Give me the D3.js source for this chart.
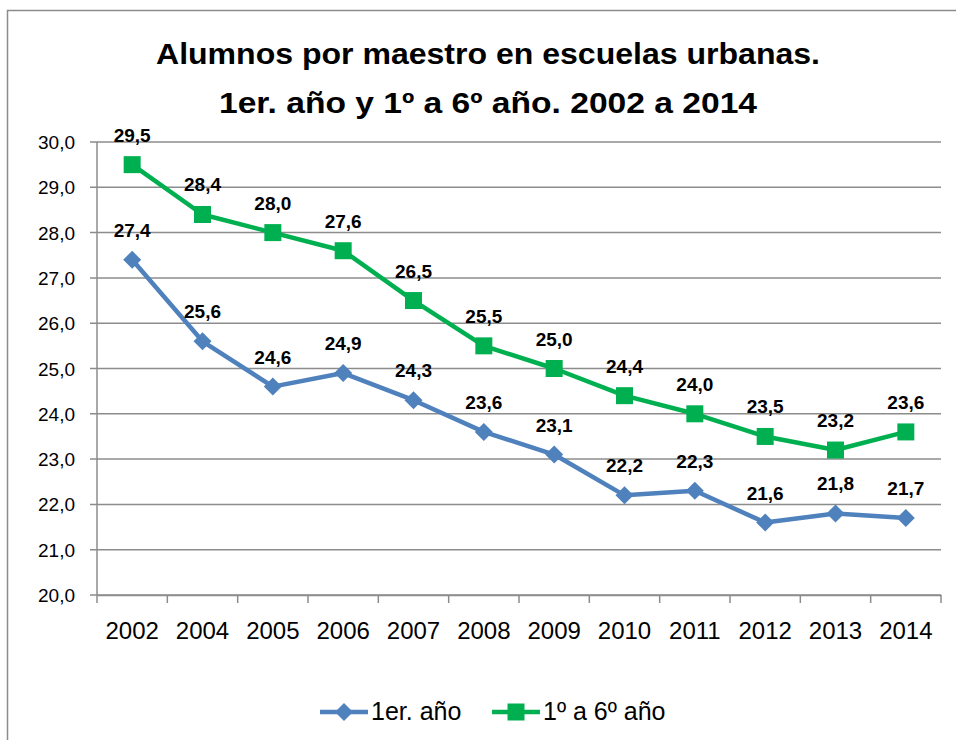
<!DOCTYPE html>
<html>
<head>
<meta charset="utf-8">
<script src="https://cdn.jsdelivr.net/npm/d3@7"></script>
<style>
	body { margin: 0; background: #fff; }
	svg { display: block; font-family: 'Liberation Sans', Arial, sans-serif; }
</style>
</head>
<body>
<svg id="chart" width="956" height="740"></svg>
<script>
const years = ['2002', '2004', '2005', '2006', '2007', '2008', '2009', '2010', '2011', '2012', '2013', '2014']
const primerAnio = [27.4, 25.6, 24.6, 24.9, 24.3, 23.6, 23.1, 22.2, 22.3, 21.6, 21.8, 21.7]
const primeroASexto = [29.5, 28.4, 28.0, 27.6, 26.5, 25.5, 25.0, 24.4, 24.0, 23.5, 23.2, 23.6]
const yTicks = [20, 21, 22, 23, 24, 25, 26, 27, 28, 29, 30]
const titleLines = ['Alumnos por maestro en escuelas urbanas.', '1er. año y 1º a 6º año. 2002 a 2014']

// diamond = square turned by 45 degrees
const diamond = {
	draw(context, size) {
		const r = Math.sqrt(size / 2)
		context.moveTo(0, -r)
		context.lineTo(r, 0)
		context.lineTo(0, r)
		context.lineTo(-r, 0)
		context.closePath()
	}
}

const series = [
	{ name: '1er. año', values: primerAnio, color: '#4F81BD', marker: diamond, size: 162 },
	{ name: '1º a 6º año', values: primeroASexto, color: '#00B050', marker: d3.symbolSquare, size: 289 }
]

const svg = d3.select('#chart')
const fmt = v => d3.format('.1f')(v).replace('.', ',')
const gridColor = '#8c8c8c'

// outer frame of the chart
svg.append('rect')
	.attr('x', 7.5).attr('y', 10.5)
	.attr('width', 1000).attr('height', 1000)
	.attr('fill', 'none').attr('stroke', gridColor).attr('stroke-width', 1.5)

const plot = { left: 97, right: 941, top: 142, bottom: 595 }

const x = d3.scaleBand().domain(years).range([plot.left, plot.right])
const y = d3.scaleLinear().domain([20, 30]).range([plot.bottom, plot.top])

svg.selectAll('text.title')
	.data(titleLines)
	.enter()
	.append('text')
	.attr('class', 'title')
	.attr('x', 488)
	.attr('y', (d, i) => 64 + i * 49)
	.attr('text-anchor', 'middle')
	.attr('font-size', 29)
	.attr('font-weight', 'bold')
	.attr('textLength', (d, i) => i === 0 ? 664 : 538)
	.attr('lengthAdjust', 'spacingAndGlyphs')
	.text(d => d)

// horizontal gridlines
svg.append('g')
	.selectAll('line')
	.data(yTicks)
	.enter()
	.append('line')
	.attr('x1', plot.left - 7)
	.attr('x2', plot.right)
	.attr('y1', d => y(d))
	.attr('y2', d => y(d))
	.attr('stroke', gridColor)
	.attr('stroke-width', 1.5)

svg.append('g')
	.selectAll('text')
	.data(yTicks)
	.enter()
	.append('text')
	.attr('x', 75)
	.attr('y', d => y(d) + 7)
	.attr('text-anchor', 'end')
	.attr('font-size', 19)
	.text(fmt)

// y axis line
svg.append('line')
	.attr('x1', plot.left).attr('x2', plot.left)
	.attr('y1', plot.top).attr('y2', plot.bottom)
	.attr('stroke', gridColor).attr('stroke-width', 1.5)

// x axis, ticks sit at category boundaries
const xAxis = d3.axisBottom(x).tickSize(0).tickPadding(27)
const gx = svg.append('g')
	.attr('transform', `translate(0,${plot.bottom})`)
	.call(xAxis)
gx.select('.domain').attr('stroke', gridColor).attr('stroke-width', 1.5)
gx.selectAll('text').attr('font-size', 24).attr('fill', '#000').attr('font-family', null)

gx.selectAll('line.bound')
	.data(years.concat(['end']))
	.enter()
	.append('line')
	.attr('class', 'bound')
	.attr('x1', (d, i) => plot.left + i * x.step())
	.attr('x2', (d, i) => plot.left + i * x.step())
	.attr('y1', 0)
	.attr('y2', 8)
	.attr('stroke', gridColor)
	.attr('stroke-width', 1.5)

const cx = (d, i) => x(years[i]) + x.bandwidth() / 2
const line = d3.line().x(cx).y(d => y(d))

series.forEach(s => {
	const g = svg.append('g')
	g.append('path')
		.datum(s.values)
		.attr('d', line)
		.attr('fill', 'none')
		.attr('stroke', s.color)
		.attr('stroke-width', 4.5)
		.attr('stroke-linejoin', 'round')

	g.selectAll('path.marker')
		.data(s.values)
		.enter()
		.append('path')
		.attr('class', 'marker')
		.attr('transform', (d, i) => `translate(${cx(d, i)},${y(d)})`)
		.attr('d', d3.symbol().type(s.marker).size(s.size))
		.attr('fill', s.color)

	g.selectAll('text')
		.data(s.values)
		.enter()
		.append('text')
		.attr('x', cx)
		.attr('y', d => y(d) - 23)
		.attr('text-anchor', 'middle')
		.attr('font-size', 19)
		.attr('font-weight', 'bold')
		.text(fmt)
})

// legend
const legend = svg.append('g').attr('transform', 'translate(320,712)')
const legendX = [0, 172]
series.forEach((s, i) => {
	const item = legend.append('g').attr('transform', `translate(${legendX[i]},0)`)
	item.append('line')
		.attr('x1', 0).attr('x2', 48)
		.attr('stroke', s.color).attr('stroke-width', 4.5)
	item.append('path')
		.attr('transform', 'translate(24,0)')
		.attr('d', d3.symbol().type(s.marker).size(s.size))
		.attr('fill', s.color)
	item.append('text')
		.attr('x', 51)
		.attr('y', 8)
		.attr('font-size', 25)
		.text(s.name)
})
</script>
</body>
</html>
